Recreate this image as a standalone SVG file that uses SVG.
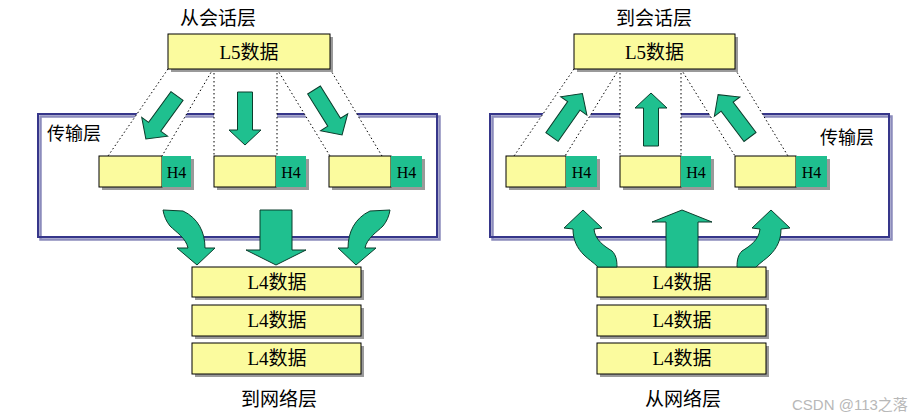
<svg xmlns="http://www.w3.org/2000/svg" xmlns:xlink="http://www.w3.org/1999/xlink" width="918" height="420" viewBox="0 0 918 420">
<style>
.frame{fill:none;stroke:#36368a;stroke-width:2}
.fshadow{fill:none;stroke:#8c8cbc;stroke-width:2.5}
.gap{fill:#ffffff;stroke:none}
.dot{stroke:#000;stroke-width:1;stroke-dasharray:1.5 2.5;fill:none}
.yel{fill:#fbfb9e;stroke:#000;stroke-width:1}
.grn{fill:#1fbf8f;stroke:none}
.shd{fill:#9a9a9a}
.arr{fill:#1fc08f;stroke:#0b3d2c;stroke-width:1;stroke-linejoin:miter}
.t{font-family:"Noto Sans CJK SC","Liberation Serif",serif;fill:#000}
.ttl{font-size:19px}
.lbl{font-size:18px}
.ser{font-family:"Liberation Serif","Noto Sans CJK SC",serif;font-size:19px;fill:#000}
.h4{font-family:"Liberation Serif",serif;font-size:16px}
.wm{font-family:"Liberation Sans","Noto Sans CJK SC",sans-serif;font-size:15px;fill:#b8b8b8}
</style>
<defs>
<path id="sa" d="M-7.5,0 H7.5 V38 H16 L0,53 L-16,38 H-7.5 Z"/>
</defs>

<!-- LEFT DIAGRAM -->
<g id="transport-left">
<rect class="fshadow" x="40.5" y="116.5" width="399" height="123"/>
<rect class="frame" x="38" y="114" width="399" height="123"/>
<text class="t lbl" x="47" y="140">传输层</text>
</g>
<g id="projections-left">
<polygon class="gap" points="168,69 213,69 162,156 108,156"/>
<polygon class="gap" points="214,69 277,69 277,156 214,156"/>
<polygon class="gap" points="277,69 330,69 382,156 330,156"/>
<line class="dot" x1="168" y1="69" x2="108" y2="156"/>
<line class="dot" x1="213" y1="69" x2="162" y2="156"/>
<line class="dot" x1="214" y1="69" x2="214" y2="156"/>
<line class="dot" x1="277" y1="69" x2="277" y2="156"/>
<line class="dot" x1="277" y1="69" x2="330" y2="156"/>
<line class="dot" x1="330" y1="69" x2="382" y2="156"/>
</g>
<g id="l5-left">
<rect class="shd" x="171" y="37" width="162" height="35"/>
<rect class="yel" x="168" y="34" width="162" height="35"/>
<text class="ser" x="249" y="59" text-anchor="middle">L5数据</text>
</g>
<text class="t ttl" x="218" y="25" text-anchor="middle">从会话层</text>
<g id="seg-left-1">
<rect class="shd" x="102" y="159" width="92" height="31"/>
<rect class="yel" x="99" y="156" width="63" height="31"/>
<rect class="grn" x="162" y="156" width="29" height="31"/>
<text class="h4" x="176.5" y="178" text-anchor="middle">H4</text>
</g>
<g id="seg-left-2">
<rect class="shd" x="217" y="159" width="92" height="31"/>
<rect class="yel" x="214" y="156" width="62" height="31"/>
<rect class="grn" x="276" y="156" width="30" height="31"/>
<text class="h4" x="291" y="178" text-anchor="middle">H4</text>
</g>
<g id="seg-left-3">
<rect class="shd" x="332" y="159" width="93" height="31"/>
<rect class="yel" x="329" y="156" width="62" height="31"/>
<rect class="grn" x="391" y="156" width="31" height="31"/>
<text class="h4" x="406.5" y="178" text-anchor="middle">H4</text>
</g>
<g id="l4-left">
<rect class="shd" x="195" y="270" width="169" height="30"/>
<rect class="yel" x="192" y="267" width="169" height="30"/>
<text class="ser" x="277" y="289" text-anchor="middle">L4数据</text>
<rect class="shd" x="195" y="308" width="169" height="31"/>
<rect class="yel" x="192" y="305" width="169" height="31"/>
<text class="ser" x="277" y="327" text-anchor="middle">L4数据</text>
<rect class="shd" x="195" y="346" width="169" height="31"/>
<rect class="yel" x="192" y="343" width="169" height="31"/>
<text class="ser" x="277" y="365" text-anchor="middle">L4数据</text>
</g>
<text class="t ttl" x="279" y="406" text-anchor="middle">到网络层</text>

<!-- RIGHT DIAGRAM -->
<g id="transport-right">
<rect class="fshadow" x="492.5" y="116.5" width="399" height="123"/>
<rect class="frame" x="490" y="114" width="399" height="123"/>
<text class="t lbl" x="820" y="144">传输层</text>
</g>
<g id="projections-right">
<polygon class="gap" points="574,69 619,69 565,156 514,156"/>
<polygon class="gap" points="620,69 681,69 681,156 620,156"/>
<polygon class="gap" points="681,69 735,69 788,156 735,156"/>
<line class="dot" x1="574" y1="69" x2="514" y2="156"/>
<line class="dot" x1="619" y1="69" x2="565" y2="156"/>
<line class="dot" x1="620" y1="69" x2="620" y2="156"/>
<line class="dot" x1="681" y1="69" x2="681" y2="156"/>
<line class="dot" x1="681" y1="69" x2="735" y2="156"/>
<line class="dot" x1="735" y1="69" x2="788" y2="156"/>
</g>
<g id="l5-right">
<rect class="shd" x="577" y="37" width="161" height="35"/>
<rect class="yel" x="574" y="34" width="161" height="35"/>
<text class="ser" x="654.5" y="59" text-anchor="middle">L5数据</text>
</g>
<text class="t ttl" x="654" y="25" text-anchor="middle">到会话层</text>
<g id="seg-right-1">
<rect class="shd" x="509" y="159" width="91" height="31"/>
<rect class="yel" x="506" y="156" width="60" height="31"/>
<rect class="grn" x="566" y="156" width="31" height="31"/>
<text class="h4" x="581.5" y="178" text-anchor="middle">H4</text>
</g>
<g id="seg-right-2">
<rect class="shd" x="623" y="159" width="91" height="31"/>
<rect class="yel" x="620" y="156" width="61" height="31"/>
<rect class="grn" x="681" y="156" width="30" height="31"/>
<text class="h4" x="696" y="178" text-anchor="middle">H4</text>
</g>
<g id="seg-right-3">
<rect class="shd" x="738" y="159" width="92" height="31"/>
<rect class="yel" x="735" y="156" width="61" height="31"/>
<rect class="grn" x="796" y="156" width="31" height="31"/>
<text class="h4" x="811.5" y="178" text-anchor="middle">H4</text>
</g>
<g id="l4-right">
<rect class="shd" x="600" y="270" width="169" height="30"/>
<rect class="yel" x="597" y="267" width="169" height="30"/>
<text class="ser" x="682" y="289" text-anchor="middle">L4数据</text>
<rect class="shd" x="600" y="308" width="169" height="31"/>
<rect class="yel" x="597" y="305" width="169" height="31"/>
<text class="ser" x="682" y="327" text-anchor="middle">L4数据</text>
<rect class="shd" x="600" y="346" width="169" height="31"/>
<rect class="yel" x="597" y="343" width="169" height="31"/>
<text class="ser" x="682" y="365" text-anchor="middle">L4数据</text>
</g>
<text class="t ttl" x="683" y="406" text-anchor="middle">从网络层</text>

<!-- CONNECTORS -->
<g id="connectors">
<use xlink:href="#sa" class="arr" transform="translate(177,96) rotate(36)"/>
<use xlink:href="#sa" class="arr" transform="translate(245,92)"/>
<use xlink:href="#sa" class="arr" transform="translate(314,90) rotate(-32)"/>
<path class="arr" d="M163,210 L183,211 C198,218 205,232 205,248 L215,248 L197,265 L177,248 L188,248 C186,238 176,232 170,226 C166,221 164,216 163,210 Z"/>
<path class="arr" d="M260,210 H292 V250 H306 L276,265 L246,250 H260 Z"/>
<path class="arr" transform="translate(553,0) scale(-1,1)" d="M163,210 L183,211 C198,218 205,232 205,248 L215,248 L197,265 L177,248 L188,248 C186,238 176,232 170,226 C166,221 164,216 163,210 Z"/>

<use xlink:href="#sa" class="arr" transform="translate(552,137) rotate(-145)"/>
<use xlink:href="#sa" class="arr" transform="translate(651,146) rotate(180)"/>
<use xlink:href="#sa" class="arr" transform="translate(750,137) rotate(143)"/>
<path class="arr" d="M583,210 L602,228 L594,229 C595,240 604,246 612,251 C616,255 617,260 617,267 L598,267 C593,262 588,259 584,255 C577,248 573,240 573,229 L564,228 Z"/>
<path class="arr" d="M682,210 L712,222 H698 V267 H666 V222 H652 Z"/>
<path class="arr" transform="translate(1354,0) scale(-1,1)" d="M583,210 L602,228 L594,229 C595,240 604,246 612,251 C616,255 617,260 617,267 L598,267 C593,262 588,259 584,255 C577,248 573,240 573,229 L564,228 Z"/>
</g>

<text class="wm" x="792" y="410">CSDN @113之落</text>
</svg>
